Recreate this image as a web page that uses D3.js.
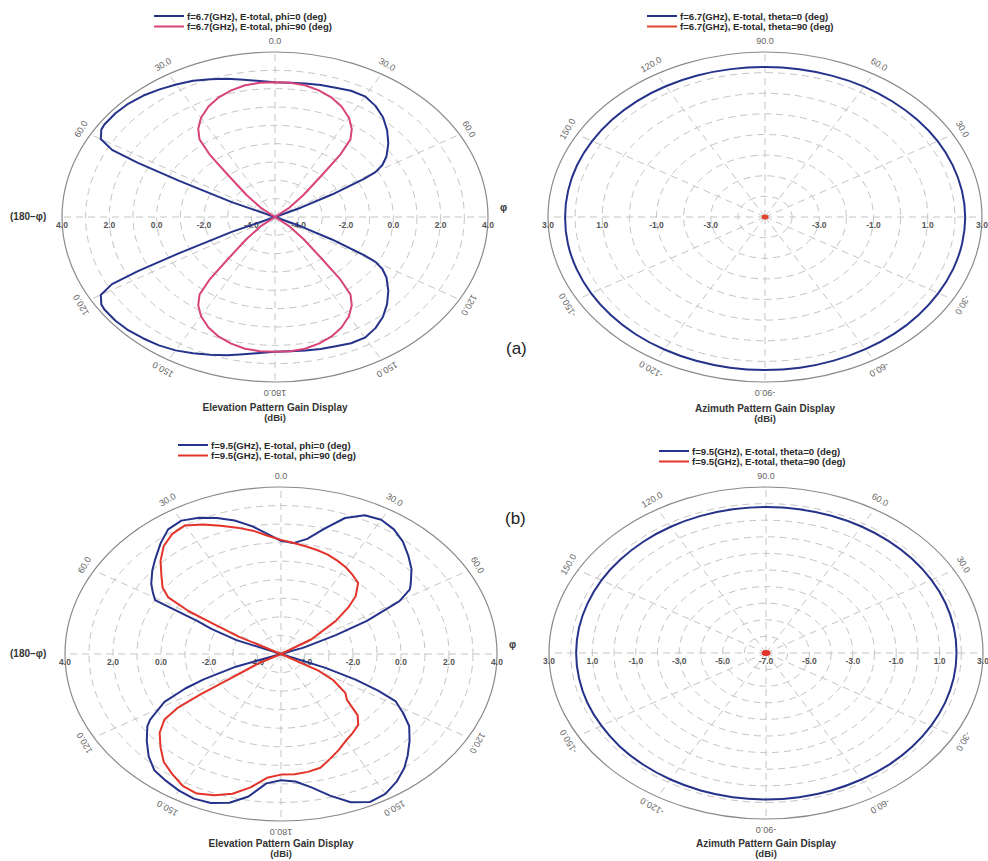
<!DOCTYPE html>
<html><head><meta charset="utf-8">
<script src="https://cdn.jsdelivr.net/npm/d3@7"></script>
<style>
body{margin:0;background:#fff}
svg{display:block}
text{font-family:"Liberation Sans",Arial,sans-serif}
</style></head>
<body><svg id="chart" width="988" height="861"></svg>
<script>
// ---------------- DATA ----------------
// Elevation curves: [position angle (deg, clockwise from top), gain dBi]
const elev67Phi0 = [[-180,2.35],[-175,2.45],[-170,2.6],[-165,2.8],[-160,3.0],[-155,3.2],[-150,3.4],[-145,3.55],[-140,3.65],[-135,3.75],[-130,3.8],[-125,3.8],[-123,3.75],[-120,3.5],[-118,2.8],[-117,1.5],[-116,-0.5],[-114,-3.0],[-112,-5],
 [-90,-5],[-68,-5],[-66,-3.0],[-64,-0.5],[-63,1.5],[-62,2.8],[-60,3.5],[-57,3.75],[-55,3.8],[-50,3.8],[-45,3.75],[-40,3.65],[-35,3.5],[-30,3.35],[-25,3.2],[-20,3.0],[-15,2.8],[-10,2.6],[-5,2.45],
 [0,2.35],[5,2.35],[10,2.4],[15,2.45],[20,2.5],[25,2.6],[30,2.6],[35,2.4],[40,2.1],[45,1.7],[50,1.25],[55,0.75],[58,0.35],[60,-0.1],[61,-0.7],[63,-2.3],[65,-3.8],[67,-5],[90,-5],
 [113,-5],[115,-3.8],[117,-2.3],[119,-0.7],[120,-0.1],[122,0.35],[125,0.75],[130,1.25],[135,1.7],[140,2.1],[145,2.4],[150,2.6],[155,2.6],[160,2.5],[165,2.45],[170,2.4],[175,2.35]];
const elev67Phi90 = [[-180,2.35],[-175,2.35],[-170,2.3],[-165,2.15],[-160,1.95],[-155,1.65],[-150,1.25],[-146,0.8],[-143,0.3],[-141,-0.6],[-139,-2.0],[-135,-3.3],[-130,-4.2],[-122,-5],
 [-90,-5],[-58,-5],[-50,-4.2],[-45,-3.3],[-41,-2.0],[-39,-0.6],[-37,0.3],[-34,0.8],[-30,1.25],[-25,1.65],[-20,1.95],[-15,2.15],[-10,2.3],[-5,2.35],
 [0,2.35],[5,2.35],[10,2.3],[15,2.15],[20,1.95],[25,1.65],[30,1.25],[34,0.8],[37,0.3],[39,-0.6],[41,-2.0],[45,-3.3],[50,-4.2],[58,-5],[90,-5],
 [122,-5],[130,-4.2],[135,-3.3],[139,-2.0],[141,-0.6],[143,0.3],[146,0.8],[150,1.25],[155,1.65],[160,1.95],[165,2.15],[170,2.3],[175,2.35]];
const elev95Phi0 = [[-180,1.8],[-175,2.0],[-170,2.8],[-165,3.3],[-160,3.55],[-155,3.6],[-150,3.5],[-145,3.35],[-140,3.2],[-135,2.8],[-130,2.3],[-125,1.8],[-123,1.5],[-118,0.5],[-115,-0.6],[-113,-1.5],[-110,-3],[-105,-5],
 [-90,-5],[-74,-5],[-68,-3],[-65,-1.8],[-63,-1.1],[-61,1.0],[-58,1.3],[-55,1.6],[-50,2.0],[-46,2.3],[-40,2.8],[-35,3.2],[-30,3.3],[-25,3.1],[-20,2.8],[-15,2.45],[-10,2.0],[-5,1.5],
 [0,1.1],[5,1.0],[10,1.3],[15,2.0],[20,2.8],[25,3.25],[30,3.35],[35,3.2],[40,2.9],[45,2.5],[50,2.1],[55,1.6],[57,1.4],[60,0.7],[63.5,-1.0],[66,-2.5],[70,-4],[74,-5],[90,-5],
 [108,-5],[112,-3],[114,-1.6],[116,-0.5],[118,0.4],[122,1.0],[126,1.6],[131,2.1],[136,2.6],[140,3.0],[145,3.4],[150,3.7],[155,3.8],[160,3.5],[165,2.9],[170,2.3],[175,1.9]];
const elev95Phi90 = [[-180,1.5],[-175,1.7],[-170,2.3],[-165,2.8],[-160,3.1],[-155,3.3],[-150,3.2],[-145,2.9],[-140,2.6],[-135,2.1],[-130,1.6],[-126,1.0],[-124,0.2],[-123,-1.0],[-122,-2.5],[-118,-4],[-110,-5],
 [-90,-5],[-66,-5],[-62,-3],[-60,-1.7],[-59,-0.5],[-57,0.6],[-54,1.1],[-50,1.5],[-45,2.1],[-40,2.6],[-35,2.9],[-30,3.0],[-25,2.7],[-20,2.35],[-15,2.05],[-10,1.75],[-5,1.4],
 [0,1.15],[5,1.0],[10,0.9],[15,0.8],[20,0.7],[25,0.55],[30,0.4],[35,0.2],[40,0.0],[45,-0.6],[48,-1.2],[52,-2.1],[58,-3.5],[65,-5],[90,-5],
 [115,-5],[120,-3.2],[123,-2.4],[128,-1.6],[132,-1.3],[136,-0.4],[140,0.0],[145,0.2],[150,0.4],[155,0.7],[160,1.0],[165,1.35],[170,1.45],[175,1.5]];
// Azimuth curves: [phi (deg), gain dBi]
const azim67Theta0 = [[0,2.38],[10,2.37],[20,2.36],[30,2.35],[40,2.33],[50,2.31],[60,2.3],[70,2.28],[80,2.27],[90,2.27],[100,2.28],[110,2.3],[120,2.32],[130,2.34],[140,2.35],[150,2.36],[160,2.37],[170,2.37],
 [180,2.37],[190,2.38],[200,2.39],[210,2.4],[220,2.41],[230,2.42],[240,2.42],[250,2.42],[260,2.42],[270,2.42],[280,2.42],[290,2.41],[300,2.4],[310,2.4],[320,2.39],[330,2.38],[340,2.38],[350,2.38]];
const azim67Theta90 = [[0,-30],[90,-30],[180,-30],[270,-30]];
const azim95Theta0 = [[0,1.78],[10,1.79],[20,1.8],[30,1.8],[40,1.8],[50,1.8],[60,1.8],[70,1.8],[80,1.8],[90,1.8],[100,1.79],[110,1.79],[120,1.78],[130,1.77],[140,1.76],[150,1.76],[160,1.75],[170,1.75],
 [180,1.75],[190,1.75],[200,1.76],[210,1.76],[220,1.78],[230,1.79],[240,1.8],[250,1.81],[260,1.82],[270,1.82],[280,1.82],[290,1.81],[300,1.8],[310,1.8],[320,1.79],[330,1.78],[340,1.78],[350,1.78]];
const azim95Theta90 = [[0,-30],[90,-30],[180,-30],[270,-30]];
// Tick labels
const elevAngleLabels = [[0,"0.0"],[30,"30.0"],[60,"60.0"],[120,"120.0"],[150,"150.0"],[180,"180.0"],[-30,"30.0"],[-60,"60.0"],[-120,"120.0"],[-150,"150.0"]];
const azimAngleLabels = [[0,"90.0"],[30,"60.0"],[60,"30.0"],[120,"-30.0"],[150,"-60.0"],[180,"-90.0"],[-150,"-120.0"],[-120,"-150.0"],[-60,"150.0"],[-30,"120.0"]];
const gainTicks67Elev = [4,2,0,-2,-4];
const gainTicks67Azim = [3,1,-1,-3];
const gainTicks95Elev = [4,2,0,-2,-4];
const gainTicks95Azim = [3,1,-1,-3,-5];
const legend67Elev = ["f=6.7(GHz), E-total, phi=0 (deg)","f=6.7(GHz), E-total, phi=90 (deg)"];
const legend67Azim = ["f=6.7(GHz), E-total, theta=0 (deg)","f=6.7(GHz), E-total, theta=90 (deg)"];
const legend95Elev = ["f=9.5(GHz), E-total, phi=0 (deg)","f=9.5(GHz), E-total, phi=90 (deg)"];
const legend95Azim = ["f=9.5(GHz), E-total, theta=0 (deg)","f=9.5(GHz), E-total, theta=90 (deg)"];

// ---------------- DRAW ----------------
const svg = d3.select("#chart");
const BLUE = "#25328a";

const panels = [
 {cx:275, cy:217, rx:213, ry:165, min:-5, max:4, type:"elev", series:[elev67Phi0, elev67Phi90], colors:[BLUE,"#d8437a"], ticks:gainTicks67Elev, center:null,
  angleLabels:elevAngleLabels, legend:legend67Elev, legY:16, legX:154, title:"Elevation Pattern Gain Display", titleY:411},
 {cx:765, cy:217, rx:217, ry:165, min:-5, max:3, type:"azim", series:[azim67Theta0, azim67Theta90], colors:[BLUE,"#e0452e"], ticks:gainTicks67Azim, center:null,
  angleLabels:azimAngleLabels, legend:legend67Azim, legY:16, legX:647, title:"Azimuth Pattern Gain Display", titleY:412, dot:[7,5]},
 {cx:281, cy:654, rx:216, ry:167, min:-5, max:4, type:"elev", series:[elev95Phi0, elev95Phi90], colors:[BLUE,"#e2342a"], ticks:gainTicks95Elev, center:null,
  angleLabels:elevAngleLabels, legend:legend95Elev, legY:445, legX:178, title:"Elevation Pattern Gain Display", titleY:847},
 {cx:766, cy:653, rx:217, ry:166, min:-7, max:3, type:"azim", series:[azim95Theta0, azim95Theta90], colors:[BLUE,"#e2342a"], ticks:gainTicks95Azim, center:"-7.0",
  angleLabels:azimAngleLabels, legend:legend95Azim, legY:451, legX:659, title:"Azimuth Pattern Gain Display", titleY:847, dot:[9,6]}
];

panels.forEach(p => {
  const k = p.ry / p.rx;
  const r = d3.scaleLinear().domain([p.min, p.max]).range([0, p.rx]).clamp(true);
  const g = svg.append("g").attr("transform", `translate(${p.cx},${p.cy})`);
  const toPos = p.type === "azim" ? (a => 90 - a) : (a => a);
  const xy = (ang, v) => { const t = ang * Math.PI / 180; return [r(v) * Math.sin(t), -r(v) * Math.cos(t) * k]; };

  const ringVals = d3.range(p.min + 1, p.max, 1);
  g.selectAll("ellipse.ring").data(ringVals).join("ellipse")
    .attr("rx", v => r(v)).attr("ry", v => r(v) * k)
    .attr("fill", "none").attr("stroke", "#c4c4c4").attr("stroke-width", 1).attr("stroke-dasharray", "7,5");
  const spokes = d3.range(0, 360, 30);
  g.selectAll("line.spoke").data(spokes).join("line")
    .attr("x1", 0).attr("y1", 0)
    .attr("x2", a => xy(a, p.max)[0]).attr("y2", a => xy(a, p.max)[1])
    .attr("stroke", "#c4c4c4").attr("stroke-width", 1).attr("stroke-dasharray", "7,5");
  g.append("ellipse").attr("rx", r(p.max)).attr("ry", r(p.max) * k)
    .attr("fill", "none").attr("stroke", "#8a8a8a").attr("stroke-width", 1.2);

  const tickData = [];
  p.ticks.forEach(v => { tickData.push([-1, v]); tickData.push([1, v]); });
  g.selectAll("text.gt").data(tickData).join("text")
    .attr("x", d => d[0] * r(d[1])).attr("y", 11)
    .attr("text-anchor", "middle").attr("font-size", 8.5).attr("font-weight", "bold").attr("fill", "#555")
    .text(d => d[1].toFixed(1));
  if (p.center) g.append("text").attr("x", 0).attr("y", 11).attr("text-anchor", "middle")
    .attr("font-size", 8.5).attr("font-weight", "bold").attr("fill", "#555").text(p.center);

  g.selectAll("text.al").data(p.angleLabels).join("text")
    .attr("transform", d => { const t = d[0] * Math.PI / 180; const x = (p.rx + 11) * Math.sin(t), y = -(p.ry + 11) * Math.cos(t);
      return `translate(${x},${y}) rotate(${d[0]})`; })
    .attr("text-anchor", "middle").attr("dominant-baseline", "central")
    .attr("font-size", 9).attr("fill", "#666").text(d => d[1]);

  const curve = p.type === "azim" ? d3.curveCardinalClosed : d3.curveLinearClosed;
  const line = d3.line().x(d => xy(toPos(d[0]), d[1])[0]).y(d => xy(toPos(d[0]), d[1])[1]).curve(curve);
  p.series.forEach((s, i) => {
    const isDot = p.dot && i === 1;
    g.append("path").attr("d", line(s)).attr("fill", "none")
      .attr("stroke", p.colors[i]).attr("stroke-width", 2).attr("stroke-linejoin", "round");
    if (isDot) g.append("ellipse").attr("rx", p.dot[0] / 2).attr("ry", p.dot[1] / 2).attr("fill", p.colors[i]);
  });

  p.legend.forEach((t, i) => {
    svg.append("line").attr("x1", p.legX).attr("x2", p.legX + 30).attr("y1", p.legY + i * 10.5).attr("y2", p.legY + i * 10.5)
      .attr("stroke", p.colors[i]).attr("stroke-width", 2);
    svg.append("text").attr("x", p.legX + 33).attr("y", p.legY + i * 10.5 + 3.5).attr("font-size", 9.6)
      .attr("font-weight", "bold").attr("fill", "#2a2a2a").text(t);
  });

  svg.append("text").attr("x", p.cx).attr("y", p.titleY).attr("text-anchor", "middle").attr("font-size", 10)
    .attr("font-weight", "bold").attr("fill", "#333").text(p.title);
  svg.append("text").attr("x", p.cx).attr("y", p.titleY + 9.5).attr("text-anchor", "middle").attr("font-size", 9.5)
    .attr("font-weight", "bold").attr("fill", "#333").text("(dBi)");

  if (p.type === "elev") {
    svg.append("text").attr("x", 10).attr("y", p.cy + 3).attr("font-size", 10).attr("font-weight", "bold").attr("fill", "#333").text("(180\u2212\u03C6)");
    svg.append("text").attr("x", p.cx + p.rx + 12).attr("y", p.cy - 6).attr("font-size", 10).attr("font-weight", "bold").attr("fill", "#333").text("\u03C6");
  }
});

svg.append("text").attr("x", 506).attr("y", 354).attr("font-family", "'Liberation Serif','DejaVu Serif',serif")
  .attr("font-size", 17).attr("fill", "#222").text("(a)");
svg.append("text").attr("x", 505).attr("y", 524).attr("font-family", "'Liberation Serif','DejaVu Serif',serif")
  .attr("font-size", 17).attr("fill", "#222").text("(b)");
</script>
</body></html>
